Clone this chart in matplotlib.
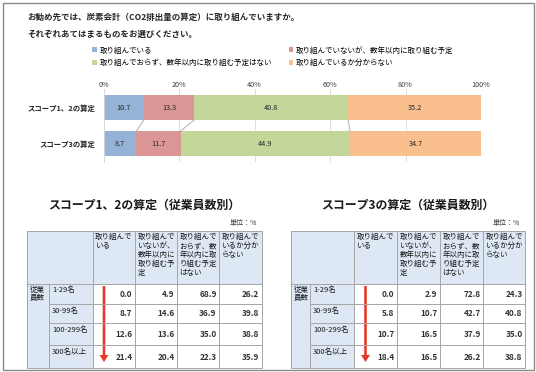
import numpy as np
import matplotlib.pyplot as plt
from matplotlib.patches import Rectangle, FancyArrow

plt.rcParams['font.family'] = ['Noto Sans CJK JP', 'DejaVu Sans']

W, H = 536, 372

question = ["お勧め先では、炭素会計（CO2排出量の算定）に取り組んでいますか。",
            "それぞれあてはまるものをお選びください。"]
answers = ["取り組んでいる", "取り組んでいないが、数年以内に取り組む予定",
           "取り組んでおらず、数年以内に取り組む予定はない", "取り組んでいるか分からない"]
scopes = ["スコープ1、2の算定", "スコープ3の算定"]
scope12 = [10.7, 13.3, 40.8, 35.2]
scope3 = [8.7, 11.7, 44.9, 34.7]
colors = ["#95b3d7", "#da9694", "#c4d79b", "#fabf8f"]

headers = [["取り組んで", "いる"],
           ["取り組んで", "いないが、", "数年以内に", "取り組む予", "定"],
           ["取り組んで", "おらず、数", "年以内に取", "り組む予定", "はない"],
           ["取り組んで", "いるか分か", "らない"]]
sizes = ["1-29名", "30-99名", "100-299名", "300名以上"]
table12 = [[0.0, 4.9, 68.9, 26.2],
           [8.7, 14.6, 36.9, 39.8],
           [12.6, 13.6, 35.0, 38.8],
           [21.4, 20.4, 22.3, 35.9]]
table3 = [[0.0, 2.9, 72.8, 24.3],
          [5.8, 10.7, 42.7, 40.8],
          [10.7, 16.5, 37.9, 35.0],
          [18.4, 16.5, 26.2, 38.8]]

fig = plt.figure(figsize=(W / 100, H / 100), dpi=100)

# background layer in pixel coordinates
bg = fig.add_axes([0, 0, 1, 1])
bg.set_xlim(0, W)
bg.set_ylim(H, 0)
bg.axis('off')
bg.add_patch(Rectangle((2.5, 2.5), 531, 367, fill=False, ec='#8a8a8a', lw=1))

for k, line in enumerate(question):
    bg.text(27.5, 17.5 + k * 16.5, line, fontsize=6.1, fontweight='bold',
            color='#262626', va='center', ha='left')

# stacked bar chart
ax = fig.add_axes([103.5 / W, 1 - 161.7 / H, (481 - 103.5) / W, (161.7 - 89.5) / H])
data = np.array([scope12, scope3])
left = np.zeros(2)
bars = []
for i in range(4):
    b = ax.barh([0, 1], data[:, i], left=left, height=0.69, color=colors[i], label=answers[i])
    for y in range(2):
        ax.text(left[y] + data[y, i] / 2, y, f"{data[y, i]:.1f}", ha='center', va='center',
                fontsize=5.3, color='#262626')
    left = left + data[:, i]
    bars.append(b)

cum = np.cumsum(data, axis=1)
for i in range(3):
    ax.plot([cum[0, i], cum[1, i]], [0.345, 1 - 0.345], color='#a6a6a6', lw=0.6)

ax.set_xlim(0, 100)
ax.set_ylim(1.5, -0.5)
ax.xaxis.tick_top()
ax.set_xticks(range(0, 101, 20), [f"{v}%" for v in range(0, 101, 20)])
ax.tick_params(axis='x', length=0, pad=0.5, labelsize=5.2, colors='#404040')
ax.set_yticks([0, 1], scopes, fontweight='bold')
ax.tick_params(axis='y', length=0, pad=6, labelsize=5.3, colors='#262626')
ax.grid(axis='x', color='#d9d9d9', lw=0.6)
ax.set_axisbelow(True)
for s in ['top', 'right', 'bottom']:
    ax.spines[s].set_visible(False)
ax.spines['left'].set_color('#d9d9d9')
ax.spines['left'].set_linewidth(0.6)

order = [0, 2, 1, 3]
fig.legend(handles=[bars[k] for k in order], labels=[answers[k] for k in order],
           ncol=2, loc='upper left', bbox_to_anchor=(92 / W, 1 - 46.5 / H),
           frameon=False, fontsize=5.4, handlelength=0.6, handleheight=0.6,
           handletextpad=0.4, columnspacing=2.2, borderpad=0, borderaxespad=0,
           labelspacing=0.6)


def draw_table(cols, values, title):
    rows = [231, 283.5, 304, 323, 345, 368]
    blue = '#dde8f4'
    grid = '#a5a5a5'
    bg.add_patch(Rectangle((cols[0], rows[0]), cols[-1] - cols[0], rows[1] - rows[0],
                           fc=blue, ec='none'))
    bg.add_patch(Rectangle((cols[0], rows[1]), cols[2] - cols[0], rows[-1] - rows[1],
                           fc=blue, ec='none'))
    bg.add_patch(Rectangle((cols[0], rows[0]), cols[-1] - cols[0], rows[-1] - rows[0],
                           fill=False, ec=grid, lw=0.7))
    for c in cols[2:-1]:
        bg.plot([c, c], [rows[0], rows[-1]], color=grid, lw=0.7)
    bg.plot([cols[1], cols[1]], [rows[1], rows[-1]], color=grid, lw=0.7)
    bg.plot([cols[0], cols[-1]], [rows[1], rows[1]], color=grid, lw=0.7)
    for r in rows[2:-1]:
        bg.plot([cols[1], cols[-1]], [r, r], color=grid, lw=0.7)

    bg.text((cols[0] + cols[-1]) / 2, 205, title, fontsize=8.6, fontweight='bold',
            ha='center', va='center', color='#1a1a1a')
    bg.text(cols[-1] - 5, 223.5, "単位：%", fontsize=5, ha='right', va='center', color='#404040')

    for j, lines in enumerate(headers):
        for k, line in enumerate(lines):
            bg.text(cols[j + 2] + 2.5, rows[0] + 6 + k * 8.9, line, fontsize=5.4,
                    ha='left', va='center', color='#1a1a1a')
    for k, line in enumerate(["従業", "員数"]):
        bg.text(cols[0] + 2.5, rows[1] + 6.5 + k * 7.5, line, fontsize=5.4,
                ha='left', va='center', color='#1a1a1a')
    for i, name in enumerate(sizes):
        bg.text(cols[1] + 3, rows[i + 1] + 6.5, name, fontsize=5.4,
                ha='left', va='center', color='#1a1a1a')
        for j, v in enumerate(values[i]):
            bg.text(cols[j + 3] - 2.5, (rows[i + 1] + rows[i + 2]) / 2 + 0.5, f"{v:.1f}",
                    fontsize=5.9, fontweight='bold', ha='right', va='center', color='#333333')

    x = cols[2] + 11.5
    bg.add_patch(FancyArrow(x, 286, 0, 76, width=2.6, head_width=9, head_length=7,
                            length_includes_head=True, color='#e5392c', lw=0))


draw_table([27, 49, 92.5, 135, 177, 219, 261.5], table12, "スコープ1、2の算定（従業員数別）")
draw_table([291, 310, 354, 397, 440, 483, 525], table3, "スコープ3の算定（従業員数別）")

fig.savefig("out.png", dpi=100)
